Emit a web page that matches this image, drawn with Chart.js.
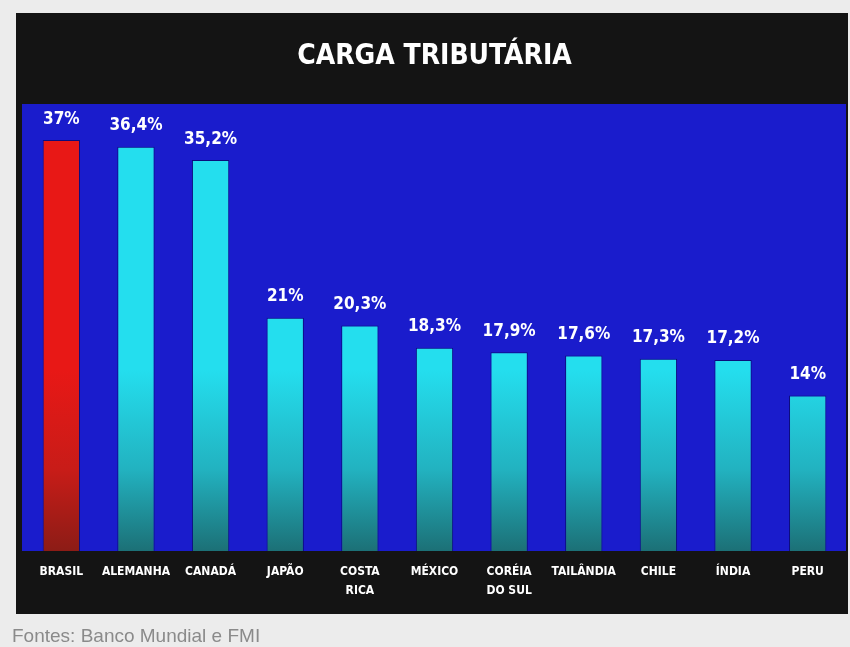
<!DOCTYPE html>
<html>
<head>
<meta charset="utf-8">
<script src="https://cdn.jsdelivr.net/npm/chart.js"></script>
<style>
  html, body { margin: 0; padding: 0; background: #ececec; }
  #wrap { width: 850px; height: 647px; }
</style>
</head>
<body>
<div id="wrap"><canvas id="cargaChart" width="850" height="647"></canvas></div>
<script>
// Carga tributária (% do PIB)
const countries = ['BRASIL', 'ALEMANHA', 'CANADÁ', 'JAPÃO', ['COSTA', 'RICA'], 'MÉXICO',
  ['CORÉIA', 'DO SUL'], 'TAILÂNDIA', 'CHILE', 'ÍNDIA', 'PERU'];
const taxLoad = [37, 36.4, 35.2, 21, 20.3, 18.3, 17.9, 17.6, 17.3, 17.2, 14];
const highlight = 'BRASIL';
const titleText = 'CARGA TRIBUTÁRIA';
const sourceText = 'Fontes: Banco Mundial e FMI';

const narrow = "'Liberation Sans Narrow', 'DejaVu Sans Condensed', 'Arial Narrow', sans-serif";

function barFill(ctx) {
  const chart = ctx.chart;
  const area = chart.chartArea;
  const isRed = countries[ctx.dataIndex] === highlight;
  if (!area) return isRed ? '#e01818' : '#22dcee';
  const g = chart.ctx.createLinearGradient(0, 370, 0, area.bottom);
  if (isRed) {
    g.addColorStop(0, 'rgb(232,24,22)');
    g.addColorStop(0.55, 'rgb(200,28,24)');
    g.addColorStop(1, 'rgb(140,28,22)');
  } else {
    g.addColorStop(0, 'rgb(36,222,238)');
    g.addColorStop(0.55, 'rgb(34,178,192)');
    g.addColorStop(1, 'rgb(28,112,118)');
  }
  return g;
}

// black panel + blue plot background + source note
const backdrop = {
  id: 'backdrop',
  beforeDraw(chart) {
    const c = chart.ctx;
    const a = chart.chartArea;
    c.save();
    c.fillStyle = '#ececec';
    c.fillRect(0, 0, chart.width, chart.height);
    c.fillStyle = '#141414';
    c.fillRect(16, 13, 832, 601);
    c.fillStyle = '#1a1ccc';
    c.fillRect(22, a.top, 824, a.bottom - a.top);
    c.restore();
  },
  afterDraw(chart) {
    const c = chart.ctx;
    c.save();
    c.fillStyle = '#8a8a8a';
    c.font = "19px 'Liberation Sans', Arial, sans-serif";
    c.textBaseline = 'middle';
    c.textAlign = 'left';
    c.fillText(sourceText, 12, 637);
    c.restore();
  }
};

// percentage labels above bars
const valueLabels = {
  id: 'valueLabels',
  afterDatasetsDraw(chart) {
    const c = chart.ctx;
    const meta = chart.getDatasetMeta(0);
    c.save();
    c.fillStyle = '#ffffff';
    c.font = 'bold 17px ' + narrow;
    c.textAlign = 'center';
    c.textBaseline = 'middle';
    meta.data.forEach((bar, i) => {
      const txt = String(taxLoad[i]).replace('.', ',') + '%';
      c.fillText(txt, bar.x, bar.y - 21);
    });
    c.restore();
  }
};

new Chart(document.getElementById('cargaChart'), {
  type: 'bar',
  data: {
    labels: countries,
    datasets: [{
      data: taxLoad,
      backgroundColor: barFill,
      borderColor: 'rgba(0,0,60,0.55)',
      borderWidth: 1,
      barPercentage: 0.5,
      categoryPercentage: 1
    }]
  },
  options: {
    responsive: false,
    animation: false,
    layout: { padding: { top: 0, left: 24, right: 5, bottom: 33 } },
    plugins: {
      legend: { display: false },
      tooltip: { enabled: false },
      title: {
        display: true,
        text: titleText,
        color: '#ffffff',
        font: { family: narrow, size: 28, weight: 'bold', lineHeight: 1.2 },
        padding: { top: 40, bottom: 30.4 }
      }
    },
    scales: {
      x: {
        grid: { display: false, drawTicks: false },
        border: { display: false },
        afterFit(scale) { scale.height = 63; },
        ticks: {
          color: '#ffffff',
          padding: 12,
          maxRotation: 0,
          autoSkip: false,
          font: { family: narrow, size: 12, weight: 'bold', lineHeight: 1.55 }
        }
      },
      y: {
        display: false,
        min: 0,
        max: 40.25
      }
    }
  },
  plugins: [backdrop, valueLabels]
});
</script>
</body>
</html>
